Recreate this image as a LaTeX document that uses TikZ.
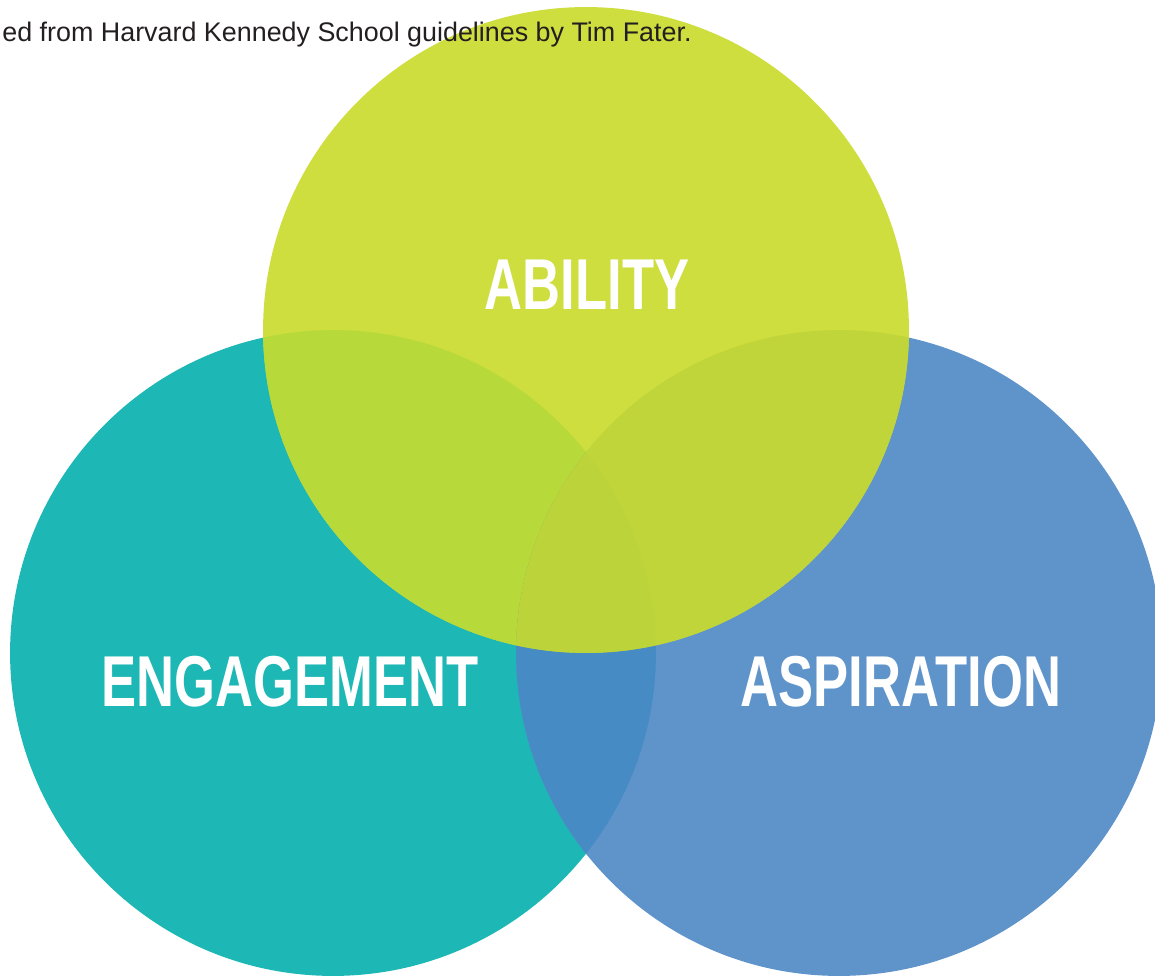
\documentclass[tikz,border=0pt]{standalone}
\usepackage{fontspec}
\setmainfont{Liberation Sans}
\newfontfamily\condfont[FakeStretch=0.73]{Liberation Sans}
\usepackage{xcolor}
\definecolor{Ink}{HTML}{231F20}
\definecolor{Ability}{HTML}{CEDE3F}
\definecolor{Engage}{HTML}{1DB8B5}
\definecolor{Aspire}{HTML}{5F94CB}
\definecolor{AbEn}{HTML}{B7D939}
\definecolor{AbAs}{HTML}{C0D53A}
\definecolor{EnAs}{HTML}{468BC4}
\definecolor{AllThree}{HTML}{BCD43A}

\begin{document}
\begin{tikzpicture}[x=0.02cm,y=0.02cm,
  venn/.style={circle,minimum size=12.92cm,inner sep=0pt},
  label/.style={font=\condfont\bfseries\fontsize{41}{41}\selectfont,text=white,inner sep=0pt}]
\useasboundingbox (0,0) rectangle (1155,979);
\node[venn,fill=Engage] (eng) at (333,326) {};
\node[venn,fill=Aspire] (asp) at (839,326) {};
\node[venn,fill=Ability] (abl) at (586,649) {};
% overlaps
\begin{scope}
\clip (eng.center) circle (6.46cm);
\fill[AbEn] (abl.center) circle (6.46cm);
\fill[EnAs] (asp.center) circle (6.46cm);
\end{scope}
\begin{scope}
\clip (asp.center) circle (6.46cm);
\fill[AbAs] (abl.center) circle (6.46cm);
\clip (eng.center) circle (6.46cm);
\fill[AllThree] (abl.center) circle (6.46cm);
\end{scope}
\node[label] (ability) at (587,694) {ABILITY};
\node[label] (engagement) at (290,297) {ENGAGEMENT};
\node[label] (aspiration) at (901,297) {ASPIRATION};
\node[anchor=base west,font=\fontsize{15.3}{15.3}\selectfont,text=Ink,inner sep=0pt] (credit) at (2,937) {ed from Harvard Kennedy School guidelines by Tim Fater.};
\end{tikzpicture}
\end{document}
